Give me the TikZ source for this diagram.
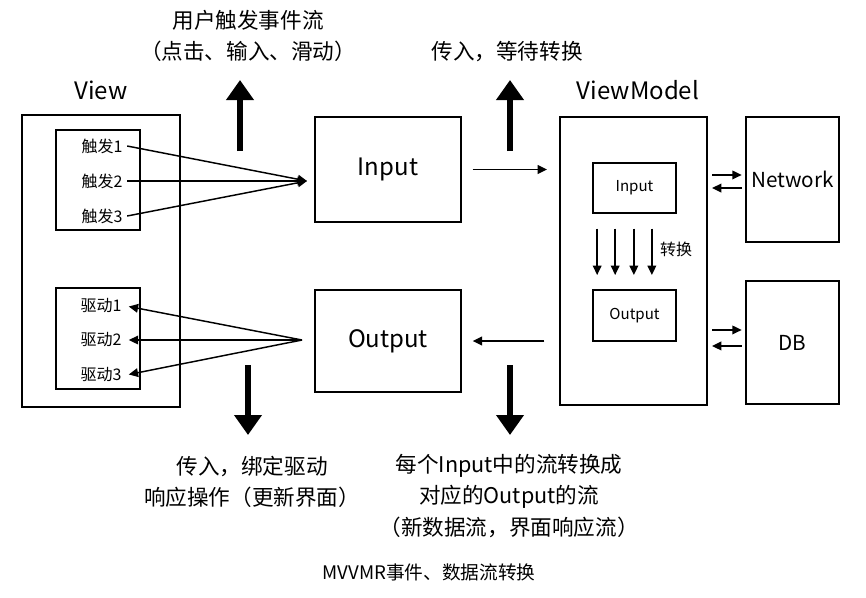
\documentclass[tikz,border=0pt]{standalone}
\usepackage{fontspec}
\setmainfont{Noto Sans CJK SC}
\usepackage{tikz}
\usetikzlibrary{arrows.meta}

\begin{document}
\begin{tikzpicture}[x=0.75pt, y=-0.75pt,
    box/.style={draw, line width=1.5pt, inner sep=0pt},
    link/.style={line width=1.1pt, -{Triangle[length=7pt,width=6.5pt]}},
    fat/.style={line width=4.5pt, -{Triangle[length=15pt,width=20pt]}},
    note/.style={font=\fontsize{16.2}{23.5}\selectfont, align=center},
    big/.style={font=\fontsize{18}{20}\selectfont},
    small/.style={font=\fontsize{12}{14}\selectfont}]
    \useasboundingbox (0, 0) rectangle (866, 597);

    % View side
    \node [box, minimum width=118.5pt, minimum height=219pt] (view) at (101, 261) {};
    \node [big] (viewname) at (101, 90) {View};
    \node [box, minimum width=63pt, minimum height=75pt] (trig) at (98, 180) {};
    \node [box, minimum width=63pt, minimum height=75.75pt] (drv) at (98, 338.5) {};
    \node [small] (t1) at (102, 146) {触发1};
    \node [small] (t2) at (102, 181) {触发2};
    \node [small] (t3) at (102, 216) {触发3};
    \node [small] (d1) at (101, 306) {驱动1};
    \node [small] (d2) at (101, 340) {驱动2};
    \node [small] (d3) at (101, 375) {驱动3};

    % Input / Output
    \node [box, big, minimum width=109.5pt, minimum height=78.75pt] (inp) at (388, 169.5) {Input};
    \node [box, big, minimum width=109.5pt, minimum height=76.5pt] (outp) at (388, 341) {Output};
    \coordinate (inhit) at (307, 181);
    \coordinate (outfrom) at (302, 340);
    \draw [link] (t1.east) -- (inhit);
    \draw [link] (t2.east) -- (inhit);
    \draw [link] (t3.east) -- (inhit);
    \draw [link, shorten >=2pt] (outfrom) -- (d1.east);
    \draw [link, shorten >=2pt] (outfrom) -- (d2.east);
    \draw [link, shorten >=2pt] (outfrom) -- (d3.east);

    % ViewModel side
    \node [box, minimum width=110.25pt, minimum height=216pt] (vm) at (633.5, 261) {};
    \node [big] (vmname) at (638, 90) {ViewModel};
    \node [box, font=\fontsize{11.3}{13}\selectfont, minimum width=62.25pt, minimum height=37.5pt] (vin) at (634.5, 188) {Input};
    \node [box, font=\fontsize{11.3}{13}\selectfont, minimum width=62.25pt, minimum height=38.25pt] (vout) at (634.5, 315.5) {Output};
    \draw [link, shorten <=11pt, shorten >=10.5pt] ([xshift=-28pt]vin.south) -- ([xshift=-28pt]vout.north);
    \draw [link, shorten <=11pt, shorten >=10.5pt] ([xshift=-14.5pt]vin.south) -- ([xshift=-14.5pt]vout.north);
    \draw [link, shorten <=11pt, shorten >=10.5pt] ([xshift=-0.5pt]vin.south) -- ([xshift=-0.5pt]vout.north);
    \draw [link, shorten <=11pt, shorten >=10.5pt] ([xshift=13pt]vin.south) -- ([xshift=13pt]vout.north);
    \node [small] (conv) at (676, 249) {转换};

    \node [box, font=\fontsize{15.5}{18}\selectfont, minimum width=69.75pt, minimum height=93.75pt] (net) at (792.5, 179.5) {Network};
    \node [box, font=\fontsize{15.5}{18}\selectfont, minimum width=69.75pt, minimum height=92.25pt] (db) at (792.5, 342.5) {DB};
    \coordinate (vmnet) at (vm.east |- net.west);
    \coordinate (vmdb) at (vm.east |- db.west);
    \draw [link, shorten <=3pt, shorten >=2.5pt] ([yshift=3.4pt]vmnet) -- ([yshift=3.4pt]net.west);
    \draw [link, shorten <=2.5pt, shorten >=3pt] ([yshift=-6.4pt]net.west) -- ([yshift=-6.4pt]vmnet);
    \draw [link, shorten <=3pt, shorten >=2.5pt] ([yshift=9.4pt]vmdb) -- ([yshift=9.4pt]db.west);
    \draw [link, shorten <=2.5pt, shorten >=3pt] ([yshift=-2.6pt]db.west) -- ([yshift=-2.6pt]vmdb);

    % between Input/Output and ViewModel
    \draw [link, shorten <=8pt, shorten >=9pt] (inp.east) -- (inp.east -| vm.west);
    \draw [link, shorten <=11pt, shorten >=8pt] (outp.east -| vm.west) -- (outp.east);

    % fat arrows
    \coordinate (upa) at (240, 151);
    \coordinate (upa') at (240, 80);
    \coordinate (upb) at (510, 151);
    \coordinate (upb') at (510, 80);
    \coordinate (dna) at (248, 365);
    \coordinate (dna') at (248, 435);
    \coordinate (dnb) at (510, 365);
    \coordinate (dnb') at (510, 435);
    \draw [fat] (upa) -- (upa');
    \draw [fat] (upb) -- (upb');
    \draw [fat] (dna) -- (dna');
    \draw [fat] (dnb) -- (dnb');

    % notes
    \node [note] (n1) at (248, 36) {用户触发事件流\\（点击、输入、滑动）};
    \node [note] (n2) at (507, 52) {传入，等待转换};
    \node [note] (n3) at (252, 482) {传入，绑定驱动\\响应操作（更新界面）};
    \node [note] (n4) at (509, 496) {每个Input中的流转换成\\对应的Output的流\\（新数据流，界面响应流）};
    \node [font=\fontsize{14}{16}\selectfont] (cap) at (429, 572) {MVVMR事件、数据流转换};
\end{tikzpicture}
\end{document}
